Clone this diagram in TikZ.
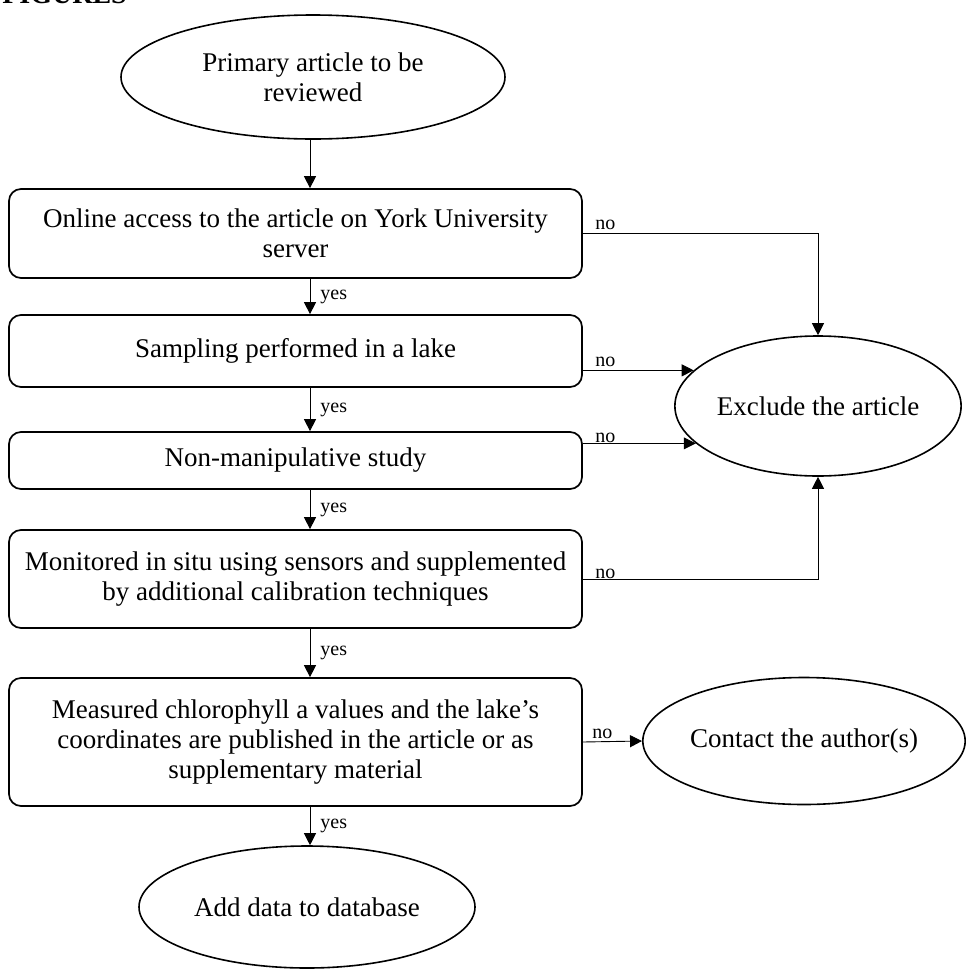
\documentclass[tikz,border=0pt]{standalone}
\usepackage{fontspec}
\setmainfont{Liberation Serif}
\usetikzlibrary{arrows.meta, positioning, shapes.geometric}

\begin{document}
\begin{tikzpicture}[x=1pt, y=-1pt,
    txt/.style={font=\fontsize{27}{30}\selectfont, align=center},
    oval/.style={draw, ellipse, line width=1.6pt, inner sep=0pt, txt},
    box/.style={draw, rectangle, rounded corners=12pt, line width=1.7pt, minimum width=573pt, inner sep=0pt, txt},
    arr/.style={-{Triangle[length=12pt,width=12pt]}, line width=0.9pt},
    lbl/.style={font=\fontsize{20}{22}\selectfont, inner sep=1pt}]
  \useasboundingbox (0,0) rectangle (966,970);

  % heading, cut off by the page
  \node[font=\bfseries\fontsize{28}{30}\selectfont, anchor=base east, inner sep=0pt] (heading) at (127,3) {FIGURES};

  % Screening steps
  \node[oval, minimum width=384pt, minimum height=124pt] (start) at (313,77) {Primary article to be\\reviewed};
  \node[box, minimum height=89pt] (access) at (295.5,233.5) {Online access to the article on York University\\server};
  \node[box, minimum height=72pt] (lake) at (295.5,351) {Sampling performed in a lake};
  \node[box, minimum height=57pt] (nonman) at (295.5,460.5) {Non-manipulative study};
  \node[box, minimum height=98pt] (insitu) at (295.5,579) {Monitored in situ using sensors and supplemented\\by additional calibration techniques};
  \node[box, minimum height=128pt] (published) at (295.5,742) {Measured chlorophyll a values and the lake's\\coordinates are published in the article or as\\supplementary material};

  % Outcomes
  \node[oval, minimum width=286pt, minimum height=140pt] (exclude) at (818,406) {Exclude the article};
  \node[oval, minimum width=322pt, minimum height=127pt] (contact) at (804,741) {Contact the author(s)};
  \node[oval, minimum width=336pt, minimum height=122pt] (add) at (307,907) {Add data to database};

  \coordinate (col) at (310,0);

  % yes branch
  \draw[arr] (start.south -| col) -- (access.north -| col);
  \draw[arr] (access.south -| col) -- (lake.north -| col) node[lbl, midway, right, xshift=9pt] {yes};
  \draw[arr] (lake.south -| col) -- (nonman.north -| col) node[lbl, midway, right, xshift=9pt] {yes};
  \draw[arr] (nonman.south -| col) -- (insitu.north -| col) node[lbl, midway, right, xshift=9pt] {yes};
  \draw[arr] (insitu.south -| col) -- (published.north -| col) node[lbl, midway, right, xshift=9pt] {yes};
  \draw[arr] (published.south -| col) -- (add.north -| col) node[lbl, midway, right, xshift=9pt] {yes};

  % no branch
  \draw[arr] (access.east) node[lbl, above right, xshift=11pt, yshift=2pt] {no} -| (exclude.north);
  \draw[arr] (lake.east |- exclude.164) node[lbl, above right, xshift=11pt, yshift=2pt] {no} -- (exclude.164);
  \draw[arr] (nonman.east |- exclude.197) node[lbl, above right, xshift=11pt, yshift=-1pt] {no} -- (exclude.197);
  \draw[arr] (insitu.east) node[lbl, above right, xshift=11pt, yshift=-1pt] {no} -| (exclude.south);
  \draw[arr] (published.east) node[lbl, above right, xshift=8pt, yshift=2pt] {no} -- (contact.west);
\end{tikzpicture}
\end{document}
